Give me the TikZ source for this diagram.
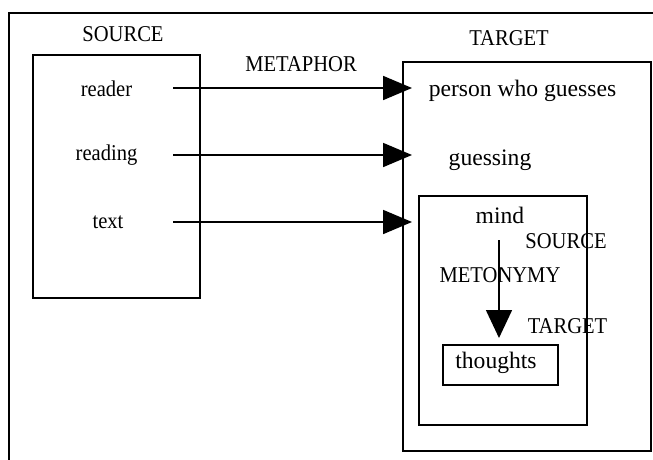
\documentclass[tikz,border=0pt]{standalone}
\usepackage{fontspec}
\usepackage{graphicx}
\setmainfont{Liberation Serif}
\usetikzlibrary{arrows.meta}
\newcommand\condensed[1]{\scalebox{0.91}[1]{#1}}
\begin{document}
\begin{tikzpicture}[x=1pt,y=-1pt,
  lab/.style={inner sep=0pt,anchor=base,font=\fontsize{22.6}{23}\selectfont},
  rlab/.style={inner sep=0pt,anchor=base,font=\fontsize{23.6}{24}\selectfont},
  frame/.style={draw=black,line width=2pt},
  boxl/.style={draw=black,line width=1.8pt},
  conn/.style={line width=1.8pt,-{Triangle[length=29pt,width=24pt]}},
  vconn/.style={line width=1.6pt,-{Triangle[length=28pt,width=26pt]}}]
\useasboundingbox (0,0) rectangle (653,460);
% outer frame (top and left)
\draw[frame] (8.5,460) -- (8.5,13) -- (653,13);
% source box
\draw[boxl] (33,55) rectangle (200,298);
\node[lab] (src) at (123,42) {\condensed{SOURCE}};
\node[lab] (reader) at (106.5,96) {\condensed{reader}};
\node[lab] (reading) at (106.5,160) {\condensed{reading}};
\node[lab] (text) at (108,228) {\condensed{text}};
\node[lab] (metaphor) at (301,71) {\condensed{METAPHOR}};
% target box
\draw[boxl] (403,62) rectangle (651,451);
\node[lab] (tgt) at (509,46) {\condensed{TARGET}};
\node[rlab] (person) at (522.5,96) {person who guesses};
\node[rlab] (guessing) at (490,165) {guessing};
% inner box
\draw[boxl] (419,196) rectangle (587,425);
\node[rlab] (mind) at (500,223) {mind};
\node[lab] (src2) at (566,248) {\condensed{SOURCE}};
\node[lab] (metonymy) at (500,282) {\condensed{METONYMY}};
\node[lab] (tgt2) at (567.5,333) {\condensed{TARGET}};
% thoughts box
\draw[boxl] (443,345) rectangle (558,385);
\node[rlab] (thoughts) at (496,368) {thoughts};
% arrows
\coordinate (a1s) at (173,88);
\coordinate (a1e) at (412,88);
\coordinate (a2s) at (173,155);
\coordinate (a2e) at (412,155);
\coordinate (a3s) at (173,222);
\coordinate (a3e) at (412,222);
\coordinate (vs) at (499,240);
\coordinate (ve) at (499,338);
\draw[conn] (a1s) -- (a1e);
\draw[conn] (a2s) -- (a2e);
\draw[conn] (a3s) -- (a3e);
\draw[vconn] (vs) -- (ve);
\end{tikzpicture}
\end{document}
